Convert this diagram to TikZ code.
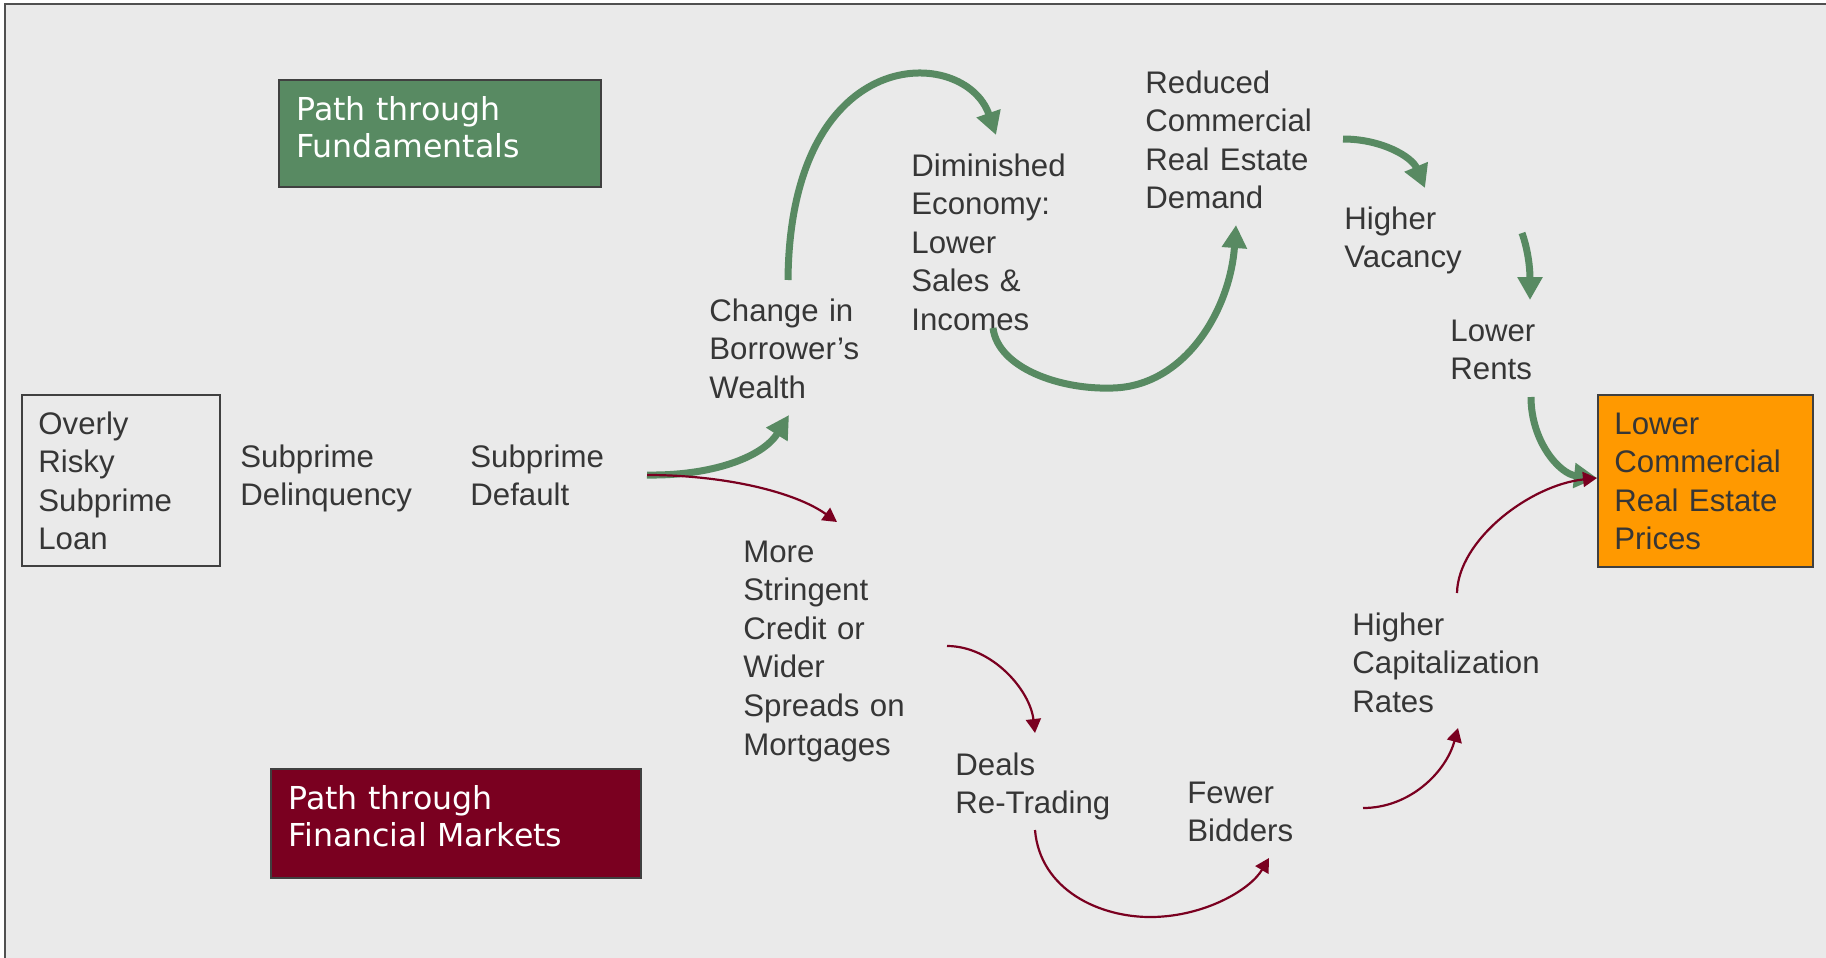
\documentclass[tikz,border=0pt]{standalone}
\usepackage{fontspec}
\setmainfont{Liberation Sans}
\newfontfamily\tagfont{DejaVu Sans}
\usetikzlibrary{arrows.meta,calc}

\definecolor{paper}{RGB}{234,234,234}
\definecolor{framegrey}{RGB}{80,80,80}
\definecolor{boxline}{RGB}{64,64,64}
\definecolor{inkgrey}{RGB}{54,54,54}
\definecolor{fundgreen}{RGB}{88,138,98}
\definecolor{finred}{RGB}{122,0,32}
\definecolor{priceorange}{RGB}{255,153,0}

\begin{document}
\begin{tikzpicture}[x=0.5pt,y=-0.5pt,
  txt/.style={anchor=base west, inner sep=0pt, text width=150pt, align=left,
    font=\fontsize{15.6pt}{19.3pt}\selectfont, text=inkgrey},
  tag/.style={anchor=base west, inner sep=0pt, text width=180pt, align=left,
    font=\tagfont\fontsize{15.8pt}{18.8pt}\selectfont, text=white},
  panel/.style={anchor=north west, draw=boxline, line width=0.9pt, inner sep=0pt},
  greenarrow/.style={draw=fundgreen, line width=3.5pt,
    -{Triangle[length=11.5pt,width=12pt]}},
  redarrow/.style={draw=finred, line width=1.1pt,
    -{Triangle[length=7pt,width=7.5pt]}}
]
\useasboundingbox (0,0) rectangle (1826,958);

% page background and frame
\fill[white] (0,0) rectangle (1826,958);
\fill[paper] (5,4) rectangle (1826,958);
\draw[framegrey, line width=1.1pt] (5,958) -- (5,4) -- (1826,4);

% legend boxes
\node[panel, fill=fundgreen, minimum width=161pt, minimum height=53.5pt] (fundbox) at (278,79) {};
\node[tag] (fundtag) at (296,120) {Path through\\Fundamentals};
\node[panel, fill=finred, minimum width=185pt, minimum height=54.5pt] (finbox) at (270,768) {};
\node[tag] (fintag) at (288,809) {Path through\\Financial Markets};

% start and end boxes
\node[panel, fill=none, minimum width=99pt, minimum height=85.5pt] (loanbox) at (21,394) {};
\node[txt] (loan) at (38,434) {Overly\\Risky\\Subprime\\Loan};
\node[panel, fill=priceorange, minimum width=107.5pt, minimum height=86pt] (pricesbox) at (1597,394) {};
\node[txt] (prices) at (1614,434) {Lower\\Commercial\\Real Estate\\Prices};

% chain of effects
\node[txt] (delinq) at (240,467) {Subprime\\Delinquency};
\node[txt] (default) at (470,467) {Subprime\\Default};
\node[txt] (wealth) at (709,321) {Change in\\Borrower’s\\Wealth};
\node[txt] (economy) at (911,176) {Diminished\\Economy:\\Lower\\Sales \&\\Incomes};
\node[txt] (demand) at (1145,93) {Reduced\\Commercial\\Real Estate\\Demand};
\node[txt] (vacancy) at (1344,229) {Higher\\Vacancy};
\node[txt] (rents) at (1450,341) {Lower\\Rents};
\node[txt] (credit) at (743,562) {More\\Stringent\\Credit or\\Wider\\Spreads on\\Mortgages};
\node[txt] (deals) at (955,775) {Deals\\Re-Trading};
\node[txt] (bidders) at (1187,803) {Fewer\\Bidders};
\node[txt] (caprates) at (1352,635) {Higher\\Capitalization\\Rates};

% connector ends
\coordinate (defaultOut) at ($(default.base west)+(177,8)$);
\coordinate (wealthIn) at ($(wealth.base west)+(80,94)$);
\coordinate (wealthOut) at ($(wealth.base west)+(79,-41)$);
\coordinate (economyIn) at ($(economy.base west)+(85,-41)$);
\coordinate (economyOut) at ($(economy.base west)+(82,152)$);
\coordinate (demandIn) at ($(demand.base west)+(91,132)$);
\coordinate (demandOut) at ($(demand.base west)+(198,46)$);
\coordinate (vacancyIn) at ($(vacancy.base west)+(81,-41)$);
\coordinate (vacancyOut) at ($(vacancy.base west)+(178,4)$);
\coordinate (rentsIn) at ($(rents.base west)+(80,-41)$);
\coordinate (rentsOut) at ($(rents.base west)+(81,56)$);
\coordinate (pricesIn) at ($(pricesbox.north west)+(0,84)$);
\coordinate (creditIn) at ($(credit.base west)+(94,-40)$);
\coordinate (creditOut) at ($(credit.base west)+(204,84)$);
\coordinate (dealsIn) at ($(deals.base west)+(80,-42)$);
\coordinate (dealsOut) at ($(deals.base west)+(80,55)$);
\coordinate (biddersIn) at ($(bidders.base west)+(82,55)$);
\coordinate (biddersOut) at ($(bidders.base west)+(176,5)$);
\coordinate (caprateIn) at ($(caprates.base west)+(106,93)$);
\coordinate (caprateOut) at ($(caprates.base west)+(105,-42)$);

% path through fundamentals
\draw[greenarrow] (defaultOut) .. controls (710,476) and (762,458) .. (wealthIn);
\draw[greenarrow] (wealthOut) .. controls (790,40) and (965,45) .. (economyIn);
\draw[greenarrow] (economyOut) .. controls (998,368) and (1060,390) .. (1113,388)
  .. controls (1185,386) and (1230,310) .. (demandIn);
\draw[greenarrow] (demandOut) .. controls (1382,139) and (1412,157) .. (vacancyIn);
\draw[greenarrow] (vacancyOut) .. controls (1528,250) and (1530,268) .. (rentsIn);
\draw[greenarrow] (rentsOut) .. controls (1531,442) and (1560,474) .. (pricesIn);

% path through financial markets
\draw[redarrow] (defaultOut) .. controls (725,475) and (795,492) .. (creditIn);
\draw[redarrow] (creditOut) .. controls (992,646) and (1030,690) .. (dealsIn);
\draw[redarrow] (dealsOut) .. controls (1040,890) and (1100,918) .. (1153,917)
  .. controls (1205,916) and (1250,890) .. (biddersIn);
\draw[redarrow] (biddersOut) .. controls (1410,808) and (1446,772) .. (caprateIn);
\draw[redarrow] (caprateOut) .. controls (1458,540) and (1530,485) .. (pricesIn);
\end{tikzpicture}
\end{document}
